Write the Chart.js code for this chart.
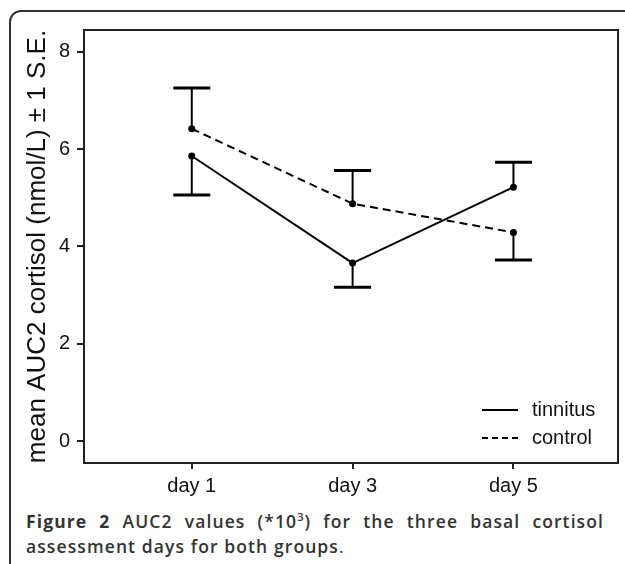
<!DOCTYPE html>
<html lang="en">
<head>
<meta charset="UTF-8">
<title>AUC2 cortisol</title>
<script src="https://cdn.jsdelivr.net/npm/chart.js"></script>
<style>
    body {
        margin: 0;
        background: #fff;
        width: 625px;
        height: 564px;
        overflow: hidden;
        position: relative;
    }
    .frame {
        position: absolute;
        left: 9px;
        top: 10px;
        width: 660px;
        height: 600px;
        border: 2px solid #333;
        border-radius: 12px;
    }
    #wrap {
        position: absolute;
        left: 0;
        top: 0;
        width: 625px;
        height: 500px;
    }
    .caption {
        position: absolute;
        left: 26px;
        top: 509px;
        width: 578px;
        font-family: "Open Sans", sans-serif;
        font-size: 17.5px;
        font-weight: 600;
        color: #333;
        line-height: 25px;
        letter-spacing: 1.1px;
    }
    .caption .l1 {
        text-align: justify;
        text-align-last: justify;
        white-space: nowrap;
    }
    .caption b { font-weight: 700; }
    .caption sup { font-size: 11px; line-height: 0; }
</style>
</head>
<body>
<div class="frame"></div>
<div id="wrap"><canvas id="chart" width="625" height="500"></canvas></div>
<div class="caption">
    <div class="l1"><b>Figure 2</b> AUC2 values (*10<sup>3</sup>) for the three basal cortisol</div>
    <div>assessment days for both groups<span style="font-weight:400">.</span></div>
</div>

<script>
    // data
    var days = ['day 1', 'day 3', 'day 5'];
    var tinnitus = [5.86, 3.66, 5.22];
    var control = [6.42, 4.88, 4.29];
    // one-sided error bars (+/- 1 S.E.), sign gives direction
    var tinnitusErr = [-0.80, -0.50, 0.51];
    var controlErr = [0.84, 0.68, -0.57];
    var yTicks = [0, 2, 4, 6, 8];

    var axisColor = '#222';
    var font = { family: 'Arial, "Liberation Sans", sans-serif', size: 20 };

    function toPoints(arr) {
        return arr.map(function (v, i) { return { x: i, y: v }; });
    }

    // one-sided error bars with caps
    var errorBars = {
        id: 'errorBars',
        afterDatasetsDraw: function (chart) {
            var ctx = chart.ctx;
            var xs = chart.scales.x, ys = chart.scales.y;
            chart.data.datasets.forEach(function (ds) {
                ds.err.forEach(function (e, i) {
                    var v = ds.data[i].y;
                    var px = xs.getPixelForValue(i);
                    var p0 = ys.getPixelForValue(v);
                    var p1 = ys.getPixelForValue(v + e);
                    ctx.save();
                    ctx.strokeStyle = '#000';
                    ctx.lineWidth = 2;
                    ctx.beginPath();
                    ctx.moveTo(px, p0);
                    ctx.lineTo(px, p1);
                    ctx.stroke();
                    ctx.lineWidth = 3;
                    ctx.beginPath();
                    ctx.moveTo(px - 18.5, p1);
                    ctx.lineTo(px + 18.5, p1);
                    ctx.stroke();
                    ctx.restore();
                });
            });
        }
    };

    // box around plot + legend in lower right
    var boxAndLegend = {
        id: 'boxAndLegend',
        afterDraw: function (chart) {
            var ctx = chart.ctx;
            var a = chart.chartArea;
            ctx.save();
            ctx.strokeStyle = axisColor;
            ctx.lineWidth = 2;
            ctx.beginPath();
            ctx.moveTo(a.left, a.top);
            ctx.lineTo(a.right, a.top);
            ctx.lineTo(a.right, a.bottom);
            ctx.stroke();

            chart.data.datasets.forEach(function (ds, i) {
                var y = 410 + i * 28;
                ctx.strokeStyle = '#000';
                ctx.lineWidth = 2;
                ctx.setLineDash(ds.borderDash.length ? [6, 4] : []);
                ctx.beginPath();
                ctx.moveTo(482, y);
                ctx.lineTo(518, y);
                ctx.stroke();
                ctx.setLineDash([]);
                ctx.fillStyle = '#111';
                ctx.font = font.size + 'px ' + font.family;
                ctx.textBaseline = 'middle';
                ctx.fillText(ds.label, 532, y);
            });
            ctx.restore();
        }
    };

    new Chart(document.getElementById('chart').getContext('2d'), {
        type: 'line',
        data: {
            datasets: [
                {
                    label: 'tinnitus',
                    data: toPoints(tinnitus),
                    err: tinnitusErr,
                    borderColor: '#000',
                    borderWidth: 2,
                    borderDash: [],
                    pointRadius: 2.5,
                    pointBackgroundColor: '#000',
                    pointBorderColor: '#000',
                    tension: 0
                },
                {
                    label: 'control',
                    data: toPoints(control),
                    err: controlErr,
                    borderColor: '#000',
                    borderWidth: 2,
                    borderDash: [8, 5],
                    pointRadius: 2.5,
                    pointBackgroundColor: '#000',
                    pointBorderColor: '#000',
                    tension: 0
                }
            ]
        },
        options: {
            responsive: false,
            animation: false,
            layout: { padding: { top: 30, right: 7, left: 0, bottom: 0 } },
            plugins: {
                legend: { display: false },
                tooltip: { enabled: false }
            },
            scales: {
                x: {
                    type: 'linear',
                    min: -0.67,
                    max: 2.65,
                    afterBuildTicks: function (scale) {
                        scale.ticks = days.map(function (d, i) { return { value: i }; });
                    },
                    afterFit: function (scale) { scale.height = 37; },
                    ticks: {
                        font: font,
                        color: '#111',
                        padding: 5,
                        maxRotation: 0,
                        callback: function (v) { return days[v]; }
                    },
                    grid: {
                        drawOnChartArea: false,
                        drawTicks: true,
                        tickLength: 6,
                        color: axisColor,
                        lineWidth: 2
                    },
                    border: { display: true, color: axisColor, width: 2 }
                },
                y: {
                    min: -0.45,
                    max: 8.45,
                    afterBuildTicks: function (scale) {
                        scale.ticks = yTicks.map(function (v) { return { value: v }; });
                    },
                    afterFit: function (scale) { scale.width = 84; },
                    ticks: {
                        font: font,
                        color: '#111',
                        padding: 7
                    },
                    grid: {
                        drawOnChartArea: false,
                        drawTicks: true,
                        tickLength: 7,
                        color: axisColor,
                        lineWidth: 2
                    },
                    border: { display: true, color: axisColor, width: 2 },
                    title: {
                        display: true,
                        text: 'mean AUC2 cortisol (nmol/L) \u00b1 1 S.E.',
                        font: { family: font.family, size: 26 },
                        color: '#111',
                        padding: { top: 22, bottom: 0 }
                    }
                }
            }
        },
        plugins: [errorBars, boxAndLegend]
    });
</script>
</body>
</html>
